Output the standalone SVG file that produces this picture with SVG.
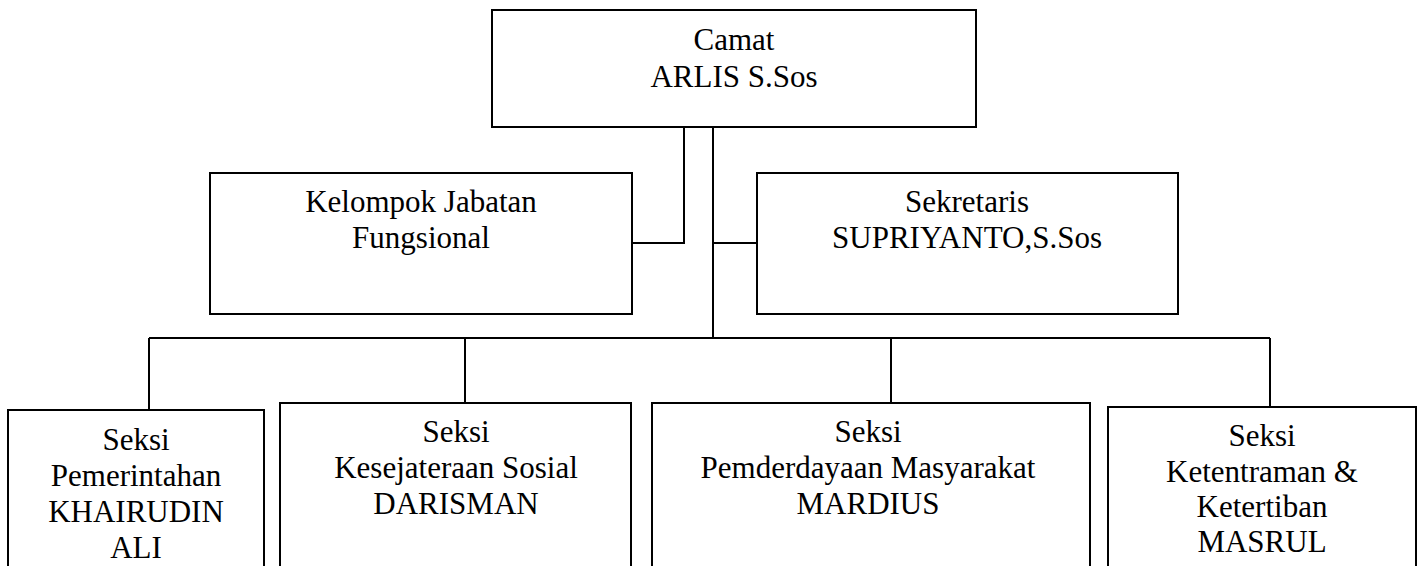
<svg xmlns="http://www.w3.org/2000/svg" width="1420" height="566" viewBox="0 0 1420 566">
<style>
.box{fill:#fff;stroke:#000;stroke-width:2}
.ln{fill:none;stroke:#000;stroke-width:2}
.t{font-family:'Liberation Serif','Times New Roman',serif;font-size:31px;fill:#000;text-anchor:middle}
</style>
<rect width="1420" height="566" fill="#fff"/>
<g id="connectors">
<path class="ln" d="M684,127 V243 H632"/>
<path class="ln" d="M713,127 V338"/>
<path class="ln" d="M713,243 H757"/>
<path class="ln" d="M149,338 H1270"/>
<path class="ln" d="M149,338 V410"/>
<path class="ln" d="M465,338 V403"/>
<path class="ln" d="M891,338 V403"/>
<path class="ln" d="M1270,338 V407"/>
</g>
<g id="camat">
<rect class="box" x="492" y="10" width="484" height="117"/>
<text class="t" x="734" y="50">Camat</text>
<text class="t" x="734" y="87">ARLIS S.Sos</text>
</g>
<g id="kelompok">
<rect class="box" x="210" y="173" width="422" height="141"/>
<text class="t" x="421" y="212">Kelompok Jabatan</text>
<text class="t" x="421" y="248">Fungsional</text>
</g>
<g id="sekretaris">
<rect class="box" x="757" y="173" width="421" height="141"/>
<text class="t" x="967" y="212">Sekretaris</text>
<text class="t" x="967" y="248">SUPRIYANTO,S.Sos</text>
</g>
<g id="pemerintahan">
<rect class="box" x="8" y="410" width="256" height="180"/>
<text class="t" x="136" y="450">Seksi</text>
<text class="t" x="136" y="486">Pemerintahan</text>
<text class="t" x="136" y="522">KHAIRUDIN</text>
<text class="t" x="136" y="558">ALI</text>
</g>
<g id="kesejateraan">
<rect class="box" x="280" y="403" width="351" height="187"/>
<text class="t" x="456" y="442">Seksi</text>
<text class="t" x="456" y="478">Kesejateraan Sosial</text>
<text class="t" x="456" y="514">DARISMAN</text>
</g>
<g id="pemberdayaan">
<rect class="box" x="652" y="403" width="438" height="187"/>
<text class="t" x="868" y="442">Seksi</text>
<text class="t" x="868" y="478">Pemderdayaan Masyarakat</text>
<text class="t" x="868" y="514">MARDIUS</text>
</g>
<g id="ketentraman">
<rect class="box" x="1108" y="407" width="308" height="183"/>
<text class="t" x="1262" y="446">Seksi</text>
<text class="t" x="1262" y="482">Ketentraman &amp;</text>
<text class="t" x="1262" y="517">Ketertiban</text>
<text class="t" x="1262" y="552">MASRUL</text>
</g>
</svg>
